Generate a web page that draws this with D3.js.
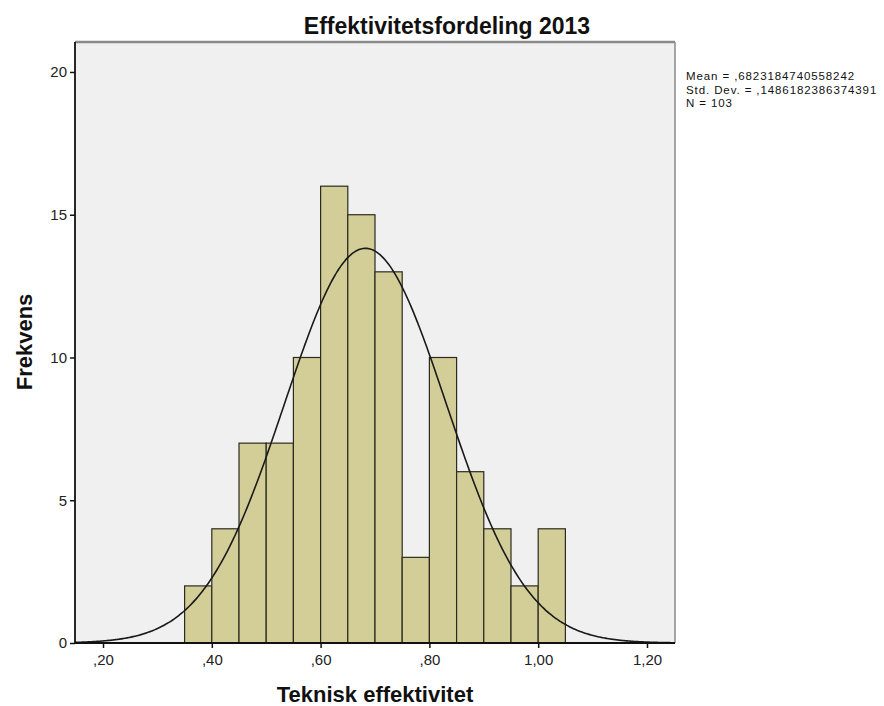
<html>
<head>
  <script src="https://d3js.org/d3.v7.min.js"></script>
  <style>
    body { margin: 0; background: #fff; }
    svg text { font-family: "Liberation Sans", Arial, sans-serif; }
  </style>
</head>
<body>
  <div id="chart"></div>
  <script>
    // bins of width .05, lower edges
    const binStarts = [0.35, 0.40, 0.45, 0.50, 0.55, 0.60, 0.65, 0.70, 0.75, 0.80, 0.85, 0.90, 0.95, 1.00];
    const counts = [2, 4, 7, 7, 10, 16, 15, 13, 3, 10, 6, 4, 2, 4];
    const binWidth = 0.05;
    const xTicks = [0.2, 0.4, 0.6, 0.8, 1.0, 1.2];
    const yTicks = [0, 5, 10, 15, 20];
    const mean = 0.6823184740558242;
    const sd = 0.1486182386374391;
    const n = 103;

    const W = 884, H = 706;
    const margin = { top: 42, right: 209, bottom: 63, left: 75 };
    const width = W - margin.left - margin.right,
      height = H - margin.top - margin.bottom;

    const svg = d3.select("#chart").append("svg")
      .attr("width", W).attr("height", H);

    const g = svg.append("g")
      .attr("transform", `translate(${margin.left},${margin.top})`);

    const x = d3.scaleLinear().domain([0.1485, 1.2515]).range([0, width]);
    const y = d3.scaleLinear().domain([0, 21.05]).range([height, 0]);

    // plot background
    g.append("rect")
      .attr("width", width).attr("height", height)
      .attr("fill", "#f0f0f0");

    // bars
    g.selectAll(".bar")
      .data(binStarts)
      .enter().append("rect")
      .attr("class", "bar")
      .attr("x", d => x(d))
      .attr("width", d => x(d + binWidth) - x(d))
      .attr("y", (d, i) => y(counts[i]))
      .attr("height", (d, i) => y(0) - y(counts[i]))
      .attr("fill", "#d3ce97")
      .attr("stroke", "#2b2b20")
      .attr("stroke-width", 1.2);

    // fitted normal curve
    const curveX = d3.range(0, 301).map(i => 0.1485 + i * (1.2515 - 0.1485) / 300);
    const dens = v => n * binWidth * Math.exp(-0.5 * ((v - mean) / sd) ** 2) / (sd * Math.sqrt(2 * Math.PI));
    g.append("path")
      .datum(curveX)
      .attr("fill", "none")
      .attr("stroke", "#1a1a1a")
      .attr("stroke-width", 1.6)
      .attr("d", d3.line().x(d => x(d)).y(d => y(dens(d))).curve(d3.curveBasis));

    // frame top/right in gray
    g.append("line").attr("x1", 0).attr("x2", width).attr("y1", 0).attr("y2", 0)
      .attr("stroke", "#8a8a8a").attr("stroke-width", 2.5);
    g.append("line").attr("x1", width).attr("x2", width).attr("y1", 0).attr("y2", height)
      .attr("stroke", "#8a8a8a").attr("stroke-width", 1.5);

    const fmt = v => d3.format(".2f")(v).replace(/^0/, "").replace(".", ",");

    const xAxis = g.append("g")
      .attr("transform", `translate(0,${height})`)
      .call(d3.axisBottom(x).tickValues(xTicks).tickSize(5).tickPadding(6).tickFormat(fmt));
    const yAxis = g.append("g")
      .call(d3.axisLeft(y).tickValues(yTicks).tickSize(5).tickPadding(3).tickFormat(d3.format("d")));

    [xAxis, yAxis].forEach(a => {
      a.select(".domain").attr("stroke", "#111").attr("stroke-width", 1.8);
      a.selectAll(".tick line").attr("stroke", "#111").attr("stroke-width", 1.5);
      a.selectAll(".tick text").attr("fill", "#222").style("font-size", "15px")
        .style("font-family", '"Liberation Sans", Arial, sans-serif');
    });
    xAxis.select(".domain").attr("d", `M0,0H${width}`);
    yAxis.select(".domain").attr("d", `M0,0V${height}`);

    // title and axis labels
    svg.append("text")
      .attr("x", 447).attr("y", 34)
      .attr("text-anchor", "middle")
      .style("font-size", "23px").style("font-weight", "bold")
      .attr("fill", "#111")
      .text("Effektivitetsfordeling 2013");

    svg.append("text")
      .attr("x", 375).attr("y", 702)
      .attr("text-anchor", "middle")
      .style("font-size", "22px").style("font-weight", "bold")
      .attr("fill", "#111")
      .text("Teknisk effektivitet");

    svg.append("text")
      .attr("transform", "translate(32,342) rotate(-90)")
      .attr("text-anchor", "middle")
      .style("font-size", "22px").style("font-weight", "bold")
      .attr("fill", "#111")
      .text("Frekvens");

    // statistics box
    const stats = [
      "Mean = ,6823184740558242",
      "Std. Dev. = ,1486182386374391",
      "N = 103"
    ];
    svg.append("g").selectAll("text")
      .data(stats)
      .enter().append("text")
      .attr("x", 686)
      .attr("y", (d, i) => 80 + i * 13.5)
      .style("font-size", "11.5px")
      .style("letter-spacing", "0.9px")
      .attr("fill", "#111")
      .text(d => d);
  </script>
</body>
</html>
